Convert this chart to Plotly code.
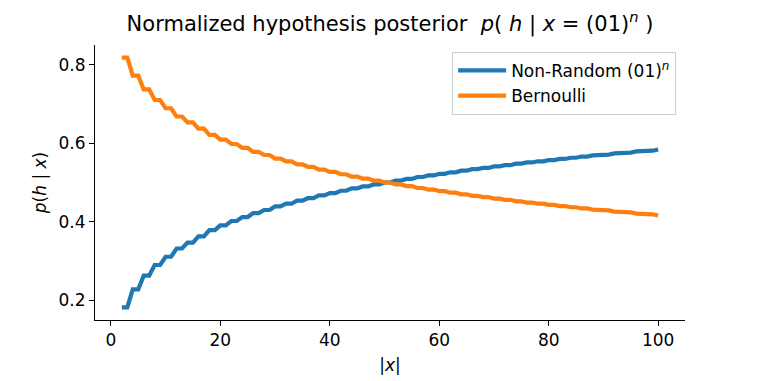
import plotly.graph_objects as go

# |x| = length of the observed string (01)^n
sizes = list(range(2, 101))

# normalized posterior of the non-random hypothesis
non_random = [
    0.182, 0.182, 0.228, 0.228, 0.263, 0.263, 0.290, 0.290, 0.311, 0.311,
    0.332, 0.332, 0.347, 0.347, 0.363, 0.363, 0.379, 0.379, 0.391, 0.391,
    0.402, 0.402, 0.412, 0.412, 0.422, 0.422, 0.430, 0.430, 0.439, 0.439,
    0.446, 0.446, 0.454, 0.454, 0.460, 0.460, 0.467, 0.467, 0.473, 0.473,
    0.479, 0.479, 0.485, 0.485, 0.490, 0.490, 0.495, 0.495, 0.500, 0.500,
    0.505, 0.505, 0.509, 0.509, 0.514, 0.514, 0.518, 0.518, 0.522, 0.522,
    0.526, 0.526, 0.530, 0.530, 0.534, 0.534, 0.537, 0.537, 0.541, 0.541,
    0.544, 0.544, 0.548, 0.548, 0.551, 0.551, 0.554, 0.554, 0.557, 0.557,
    0.560, 0.560, 0.563, 0.563, 0.566, 0.566, 0.569, 0.569, 0.571, 0.571,
    0.574, 0.574, 0.576, 0.576, 0.579, 0.579, 0.581, 0.581, 0.584,
]

# normalized posterior of the Bernoulli hypothesis
bernoulli = [
    0.818, 0.818, 0.772, 0.772, 0.737, 0.737, 0.710, 0.710, 0.689, 0.689,
    0.668, 0.668, 0.653, 0.653, 0.637, 0.637, 0.621, 0.621, 0.609, 0.609,
    0.598, 0.598, 0.588, 0.588, 0.578, 0.578, 0.570, 0.570, 0.561, 0.561,
    0.554, 0.554, 0.546, 0.546, 0.540, 0.540, 0.533, 0.533, 0.527, 0.527,
    0.521, 0.521, 0.515, 0.515, 0.510, 0.510, 0.505, 0.505, 0.500, 0.500,
    0.495, 0.495, 0.491, 0.491, 0.486, 0.486, 0.482, 0.482, 0.478, 0.478,
    0.474, 0.474, 0.470, 0.470, 0.466, 0.466, 0.463, 0.463, 0.459, 0.459,
    0.456, 0.456, 0.452, 0.452, 0.449, 0.449, 0.446, 0.446, 0.443, 0.443,
    0.440, 0.440, 0.437, 0.437, 0.434, 0.434, 0.431, 0.431, 0.429, 0.429,
    0.426, 0.426, 0.424, 0.424, 0.421, 0.421, 0.419, 0.419, 0.416,
]

x_ticks = [0, 20, 40, 60, 80, 100]
y_ticks = [0.2, 0.4, 0.6, 0.8]

font = "DejaVu Sans"

fig = go.Figure()
fig.add_trace(go.Scatter(x=sizes, y=non_random, mode="lines",
                         name="Non-Random (01)<sup><i>n</i></sup>",
                         line=dict(color="#1f77b4", width=4.2)))
fig.add_trace(go.Scatter(x=sizes, y=bernoulli, mode="lines",
                         name="Bernoulli",
                         line=dict(color="#ff7f0e", width=4.2)))

axis_style = dict(showline=True, linecolor="black", linewidth=1.1,
                  ticks="outside", ticklen=5, tickwidth=1.1, tickcolor="black",
                  showgrid=False, zeroline=False,
                  tickfont=dict(family=font, size=17, color="black"))

fig.update_xaxes(range=[-2.9, 104.9], tickvals=x_ticks,
                 title=dict(text="|<i>x</i>|", font=dict(family=font, size=17, color="black"),
                            standoff=9),
                 **axis_style)
fig.update_yaxes(range=[0.15, 0.85], tickvals=y_ticks, tickformat=".1f",
                 title=dict(text="<i>p</i>(<i>h</i> | <i>x</i>)",
                            font=dict(family=font, size=17, color="black"), standoff=7),
                 **axis_style)

# page body adds an 8px offset, so the figure is 8px smaller than the window
fig.update_layout(
    width=753, height=375,
    margin=dict(l=87, r=76, t=37, b=58),
    plot_bgcolor="white", paper_bgcolor="white",
    font=dict(family=font, color="black"),
    title=dict(text="Normalized hypothesis posterior  <i>p</i>( <i>h</i> | <i>x</i> = (01)<sup><i>n</i></sup> )",
               x=0.5, xref="paper", xanchor="center", y=0.958, yanchor="middle",
               font=dict(family=font, size=21, color="black")),
    legend=dict(x=0.985, y=0.975, xanchor="right", yanchor="top",
                bgcolor="white", bordercolor="#cccccc", borderwidth=1,
                itemwidth=48,
                font=dict(family=font, size=17, color="black")),
    showlegend=True,
)

fig.write_html("out.html")
